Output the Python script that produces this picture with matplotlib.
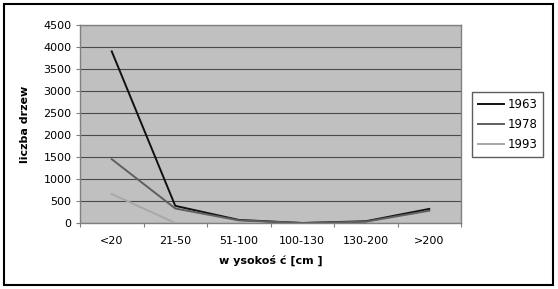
"""
Liczba drzew wg klas wysokości - 1963 / 1978 / 1993
"""

import numpy as np
import matplotlib
matplotlib.use('Agg')
import matplotlib.pyplot as plt
from matplotlib.patches import Rectangle
from matplotlib.lines import Line2D

plt.rcParams['font.family'] = ['DejaVu Sans']

categories = ["<20", "21-50", "51-100", "100-130", "130-200", ">200"]
years = ["1963", "1978", "1993"]
v1963 = [3900, 390, 70, 0, 40, 320]
v1978 = [1450, 330, 60, 0, 30, 280]
v1993 = [660, 0, np.nan, np.nan, np.nan, np.nan]

colors = ["#111111", "#5f5f5f", "#a8a8a8"]

fig = plt.figure(figsize=(5.58, 2.89), dpi=100)
ax = fig.add_axes([80 / 558, 66 / 289, 381 / 558, 198 / 289])
ax.set_facecolor("#c0c0c0")

x = np.arange(len(categories))
for vals, col, lab in zip([v1963, v1978, v1993], colors, years):
    ax.plot(x, vals, color=col, linewidth=1.4, label=lab, zorder=3)

ax.set_xlim(-0.5, len(categories) - 0.5)
ax.set_ylim(0, 4500)
ax.set_yticks(np.arange(0, 4501, 500))
ax.yaxis.grid(True, color="#4a4a4a", linewidth=0.8)
ax.set_axisbelow(True)

# ticks between categories, labels at centers
ax.set_xticks(np.arange(-0.5, len(categories), 1.0))
ax.set_xticklabels([])
ax.set_xticks(x, minor=True)
ax.set_xticklabels(categories, minor=True)
ax.tick_params(axis='x', which='minor', length=0, pad=9, labelsize=8)
ax.tick_params(axis='x', which='major', length=3, color="#808080")
ax.tick_params(axis='y', length=3, color="#808080", labelsize=8, pad=3)

for s in ax.spines.values():
    s.set_color("#808080")
    s.set_linewidth(1.0)

ax.set_ylabel("liczba drzew", fontsize=8, fontweight='bold', labelpad=10)
ax.set_xlabel("w ysokoś ć [cm ]", fontsize=8, fontweight='bold', labelpad=7)

handles = [Line2D([0], [0], color=c, linewidth=1.4) for c in colors]
fig.legend(handles, years, loc='upper left',
           bbox_to_anchor=(472 / 558, 1 - 92 / 289),
           frameon=True, fancybox=False, edgecolor="#333333",
           fontsize=8.5, handlelength=2.2, borderpad=0.5, labelspacing=0.6,
           borderaxespad=0, handletextpad=0.3)

# outer frame
fig.patches.append(Rectangle((4 / 558, 4 / 289), 549 / 558, 281 / 289,
                             transform=fig.transFigure, fill=False,
                             edgecolor="black", linewidth=1.5))

plt.savefig("out.png", dpi=100)
plt.close()
